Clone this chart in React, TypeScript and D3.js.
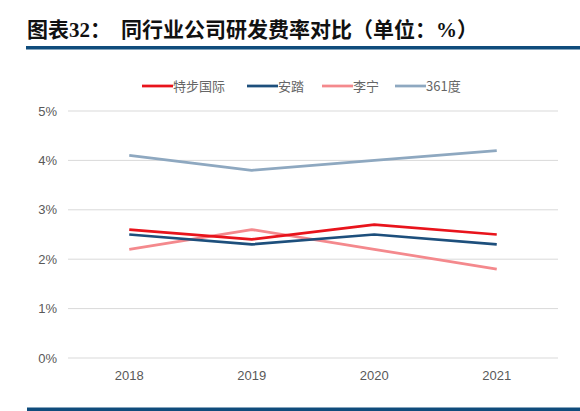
import { useEffect, useRef } from "react"
import * as d3 from "d3"

const years = ["2018", "2019", "2020", "2021"]
const seriesNames = ["特步国际", "安踏", "李宁", "361度"]
const xtep = [2.6, 2.4, 2.7, 2.5]
const anta = [2.5, 2.3, 2.5, 2.3]
const lining = [2.2, 2.6, 2.2, 1.8]
const s361 = [4.1, 3.8, 4.0, 4.2]
const yTicks = [0, 1, 2, 3, 4, 5]
const colors = ["#e8141c", "#1d4f7c", "#f4898d", "#8ea8c0"]

export default function App() {
  const svgRef = useRef<SVGSVGElement>(null)

  useEffect(() => {
    if (!svgRef.current) return

    const width = 580
    const height = 411
    const margin = { top: 111, right: 22, bottom: 53, left: 68 }
    const values = [xtep, anta, lining, s361]

    d3.select(svgRef.current).selectAll("*").remove()

    const root = d3
      .select(svgRef.current)
      .attr("width", width)
      .attr("height", height)
      .style("display", "block")
      .style("position", "absolute")
      .style("left", 0)
      .style("top", 0)

    // Title and rules
    const titleFont = "'Liberation Serif', 'Noto Sans CJK SC'"
    root
      .append("text")
      .attr("x", 27)
      .attr("y", 37)
      .attr("font-family", titleFont)
      .attr("font-weight", "bold")
      .attr("font-size", 21)
      .attr("fill", "#111")
      .text("图表32：")

    root
      .append("text")
      .attr("x", 121)
      .attr("y", 37)
      .attr("font-family", titleFont)
      .attr("font-weight", "bold")
      .attr("font-size", 21)
      .attr("fill", "#111")
      .text("同行业公司研发费率对比（单位：%）")

    root
      .append("rect")
      .attr("x", 26)
      .attr("y", 46)
      .attr("width", width - 26)
      .attr("height", 3.5)
      .attr("fill", "#0f4c7c")

    root
      .append("rect")
      .attr("x", 27)
      .attr("y", 407.5)
      .attr("width", width - 27)
      .attr("height", 3.5)
      .attr("fill", "#0f4c7c")

    const innerW = width - margin.left - margin.right

    const svg = root
      .append("g")
      .attr("transform", `translate(${margin.left},${margin.top})`)

    const x = d3.scaleBand().domain(years).range([0, innerW])
    const y = d3.scaleLinear().domain([0, 5]).range([247, 0])

    // Grid
    svg
      .selectAll("line.grid")
      .data(yTicks)
      .join("line")
      .attr("class", "grid")
      .attr("x1", 0)
      .attr("x2", innerW)
      .attr("y1", (d) => y(d))
      .attr("y2", (d) => y(d))
      .attr("stroke", "#d9d9d9")
      .attr("stroke-width", 1)

    // Y labels
    svg
      .selectAll("text.ytick")
      .data(yTicks)
      .join("text")
      .attr("class", "ytick")
      .attr("x", -11)
      .attr("y", (d) => y(d))
      .attr("dy", "0.35em")
      .attr("text-anchor", "end")
      .attr("font-family", "'Liberation Sans', Arial, sans-serif")
      .attr("font-size", 13)
      .attr("fill", "#595959")
      .text((d) => `${d}%`)

    // X labels
    svg
      .selectAll("text.xtick")
      .data(years)
      .join("text")
      .attr("class", "xtick")
      .attr("x", (d) => (x(d) as number) + x.bandwidth() / 2)
      .attr("y", y(0) + 22)
      .attr("text-anchor", "middle")
      .attr("font-family", "'Liberation Sans', Arial, sans-serif")
      .attr("font-size", 13)
      .attr("fill", "#595959")
      .text((d) => d)

    const line = d3
      .line<number>()
      .x((_d, i) => (x(years[i]) as number) + x.bandwidth() / 2)
      .y((d) => y(d))

    // 361 first, red last so it sits on top
    ;[3, 2, 1, 0].forEach((k) => {
      svg
        .append("path")
        .datum(values[k])
        .attr("fill", "none")
        .attr("stroke", colors[k])
        .attr("stroke-width", 2.75)
        .attr("stroke-linejoin", "round")
        .attr("d", line)
    })

    // Legend
    const legendX = [142, 247, 322, 395]
    const legend = root
      .append("g")
      .selectAll("g")
      .data(seriesNames)
      .join("g")
      .attr("transform", (_d, i) => `translate(${legendX[i]},86)`)

    legend
      .append("line")
      .attr("x1", 0)
      .attr("x2", 31)
      .attr("stroke", (_d, i) => colors[i])
      .attr("stroke-width", 2.75)

    legend
      .append("text")
      .attr("x", 31)
      .attr("dy", "0.35em")
      .attr("font-family", "'Noto Sans CJK SC', sans-serif")
      .attr("font-size", 13)
      .attr("fill", "#666")
      .text((d) => d)
  }, [])

  return <svg ref={svgRef} />
}
